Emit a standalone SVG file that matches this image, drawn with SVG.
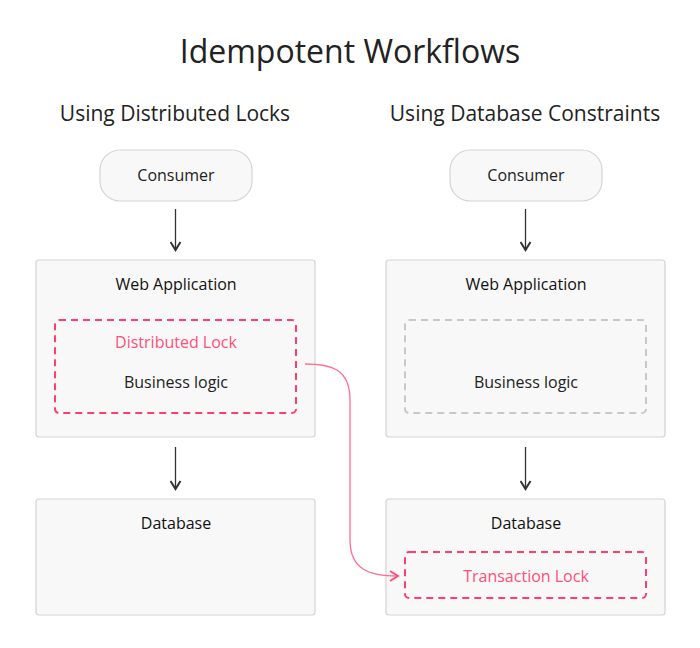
<svg xmlns="http://www.w3.org/2000/svg" width="700" height="648" viewBox="0 0 700 648">
<defs>
<style>
text{font-family:"Open Sans","DejaVu Sans",sans-serif;fill:#222;text-anchor:middle}
.t{font-size:32px}
.h{font-size:21px}
.l{font-size:16px}
.b{font-weight:500;fill:#111}
.p{fill:#ff4f7b}
.box{fill:#f8f8f8;stroke:#d4d4d4;stroke-width:1.2}
.dr{fill:none;stroke:#ff3d6e;stroke-width:2;stroke-dasharray:7 5}
.dg{fill:none;stroke:#c8c8c8;stroke-width:2;stroke-dasharray:7 5}
.c{fill:none;stroke:#333;stroke-width:1.3}
.cp{fill:none;stroke:#ff6b8f;stroke-width:1.3}
</style>
<marker id="a" viewBox="0 0 12 12" refX="10" refY="6" markerWidth="12" markerHeight="12" markerUnits="userSpaceOnUse" orient="auto">
<path d="M2,1 L10,6 L2,11" fill="none" stroke="#333" stroke-width="2"/>
</marker>
<marker id="ap" viewBox="0 0 12 12" refX="10" refY="6" markerWidth="12" markerHeight="12" markerUnits="userSpaceOnUse" orient="auto">
<path d="M2,1 L10,6 L2,11" fill="none" stroke="#ff4f7b" stroke-width="2"/>
</marker>
</defs>
<rect width="700" height="648" fill="#fff"/>
<text class="t" x="350" y="63">Idempotent Workflows</text>
<text class="h" x="175" y="121">Using Distributed Locks</text>
<text class="h" x="525" y="121">Using Database Constraints</text>

<g id="consumer-left"><rect class="box" x="100" y="150" width="152" height="51" rx="20"/><text class="l" x="176" y="181">Consumer</text></g>
<g id="webapp-left"><rect class="box" x="36" y="260" width="279" height="177" rx="3"/><text class="l b" x="176" y="290">Web Application</text></g>
<g id="lock-left"><rect class="dr" x="55" y="320" width="241" height="93" rx="4"/><text class="l p" x="176" y="348">Distributed Lock</text><text class="l" x="176" y="388">Business logic</text></g>
<g id="db-left"><rect class="box" x="36" y="499" width="279" height="116" rx="3"/><text class="l b" x="176" y="529">Database</text></g>

<g id="consumer-right"><rect class="box" x="450" y="150" width="152" height="51" rx="20"/><text class="l" x="526" y="181">Consumer</text></g>
<g id="webapp-right"><rect class="box" x="386" y="260" width="279" height="177" rx="3"/><text class="l b" x="526" y="290">Web Application</text></g>
<g id="logic-right"><rect class="dg" x="405" y="320" width="241" height="93" rx="4"/><text class="l" x="526" y="388">Business logic</text></g>
<g id="db-right"><rect class="box" x="386" y="499" width="279" height="116" rx="3"/><text class="l b" x="526" y="529">Database</text></g>
<g id="txlock-right"><rect class="dr" x="405" y="552" width="241" height="46" rx="4"/><text class="l p" x="526" y="582">Transaction Lock</text></g>

<g id="connectors">
<path class="c" d="M175.5,209 V250" marker-end="url(#a)"/>
<path class="c" d="M175.5,447 V489" marker-end="url(#a)"/>
<path class="c" d="M525.5,209 V250" marker-end="url(#a)"/>
<path class="c" d="M525.5,447 V489" marker-end="url(#a)"/>
<path class="cp" d="M305,364 C330,364 350,368 350,400 V540 C350,570 370,576 398,576" marker-end="url(#ap)"/>
</g>
</svg>
